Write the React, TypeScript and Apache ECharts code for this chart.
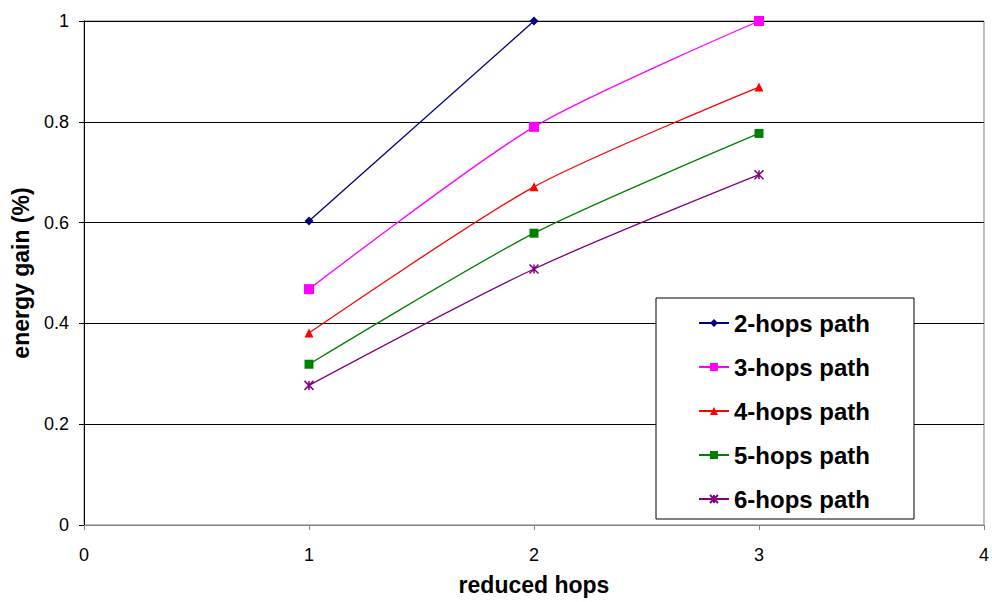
import React, { useEffect, useRef } from "react";
import * as echarts from "echarts";

const xValues = [1, 2, 3];
const seriesNames = ["2-hops path", "3-hops path", "4-hops path", "5-hops path", "6-hops path"];
const hops2 = [0.603, 1.0];
const hops3 = [0.468, 0.79, 1.0];
const hops4 = [0.381, 0.671, 0.869];
const hops5 = [0.319, 0.579, 0.777];
const hops6 = [0.277, 0.508, 0.695];
const xTicks = [0, 1, 2, 3, 4];
const yTicks = [0, 0.2, 0.4, 0.6, 0.8, 1];

const colors = ["#000080", "#FF00FF", "#FF0000", "#008000", "#800080"];
const symbols = [
  "diamond",
  "rect",
  "triangle",
  "rect",
  "path://M0,0L10,10M10,0L0,10M5,0L5,10",
];
const symbolSizes = [9, 10, 9, 9, 9];

export default function App() {
  const ref = useRef<HTMLDivElement>(null);
  useEffect(() => {
    const chart = echarts.init(ref.current!, null, { renderer: "svg" });
    const all = [hops2, hops3, hops4, hops5, hops6];
    chart.setOption({
      animation: false,
      backgroundColor: "#ffffff",
      grid: {
        left: 84,
        width: 905,
        top: 21,
        height: 504,
        containLabel: false,
        show: true,
        borderColor: "#808080",
        borderWidth: 1,
      },
      xAxis: {
        type: "value",
        min: xTicks[0],
        max: xTicks[xTicks.length - 1],
        interval: 1,
        name: "reduced hops",
        nameLocation: "middle",
        nameGap: 48,
        nameTextStyle: { fontFamily: "Liberation Sans", fontWeight: "bold", fontSize: 23, color: "#000" },
        axisLine: { show: true, lineStyle: { color: "#808080", width: 1 } },
        axisTick: { show: true, inside: false, length: 5, lineStyle: { color: "#808080" } },
        axisLabel: { fontFamily: "Liberation Sans", fontSize: 18, color: "#000", margin: 21 },
        splitLine: { show: false },
      },
      yAxis: {
        type: "value",
        min: yTicks[0],
        max: yTicks[yTicks.length - 1],
        interval: 0.2,
        name: "energy gain (%)",
        nameLocation: "middle",
        nameGap: 52,
        nameTextStyle: { fontFamily: "Liberation Sans", fontWeight: "bold", fontSize: 23, color: "#000" },
        axisLine: { show: true, lineStyle: { color: "#000", width: 1 } },
        axisTick: { show: true, length: 5, lineStyle: { color: "#000" } },
        axisLabel: {
          fontFamily: "Liberation Sans",
          fontSize: 18,
          color: "#000",
          margin: 15,
          formatter: (v: number) => String(Math.round(v * 10) / 10),
        },
        splitLine: { show: true, lineStyle: { color: "#000", width: 1 } },
      },
      legend: {
        orient: "vertical",
        left: 656,
        top: 298,
        padding: [13, 44, 8, 42],
        itemGap: 20,
        itemWidth: 30,
        itemHeight: 10,
        backgroundColor: "#fff",
        borderColor: "#000",
        borderWidth: 1,
        textStyle: { fontFamily: "Liberation Sans", fontWeight: "bold", fontSize: 24, color: "#000", lineHeight: 24 },
        data: seriesNames,
      },
      series: all.map((d, i) => ({
        name: seriesNames[i],
        type: "line",
        smooth: 0.25,
        data: d.map((v, j) => [xValues[j], v]),
        symbol: symbols[i],
        symbolSize: symbolSizes[i],
        lineStyle: { color: colors[i], width: 1.3 },
        itemStyle: {
          color: colors[i],
          borderColor: colors[i],
          borderWidth: i === 4 ? 1.5 : 0,
        },
        z: 3,
      })),
    });
    return () => chart.dispose();
  }, []);
  return (
    <div style={{ position: "fixed", left: 0, top: 0, width: 992, height: 602, overflow: "hidden" }}>
      <div ref={ref} style={{ width: 992, height: 602 }} />
    </div>
  );
}
